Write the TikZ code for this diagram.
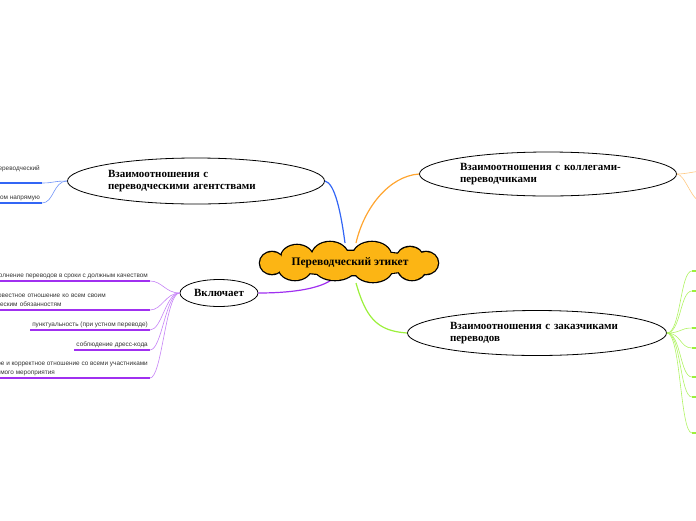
\documentclass[tikz,border=0pt]{standalone}
\usepackage{fontspec}
\setmainfont{Liberation Serif}
\setsansfont{Liberation Sans}
\usepackage{tikz}
\usetikzlibrary{calc, shapes.geometric}

\definecolor{cloudfill}{HTML}{FCB514}
\definecolor{agentblue}{HTML}{3366F5}
\definecolor{collorange}{HTML}{FFA530}
\definecolor{custgreen}{HTML}{9CF03C}
\definecolor{inclpurple}{HTML}{A030F0}

\tikzset{
  root/.style={ellipse, inner sep=0pt, minimum width=182pt, minimum height=38pt,
    font=\bfseries\fontsize{11.5}{13}\selectfont},
  topic/.style={ellipse, draw, fill=white, line width=0.8pt, align=left,
    inner sep=2pt, font=\bfseries\fontsize{11}{12}\selectfont},
  leaf/.style={anchor=south east, align=left, inner sep=2pt, text=black!80,
    font=\sffamily\fontsize{6.4}{9}\selectfont},
  branch/.style={line width=1.2pt},
  twig/.style={line width=0.6pt},
  bar/.style={line width=2pt}
}

\begin{document}
\begin{tikzpicture}[x=1pt,y=1pt]
  \useasboundingbox (0,0) rectangle (696,-520);
  \clip (0,0) rectangle (696,-520);

  % main topics
  \node[topic, text width=176pt, minimum width=257pt, minimum height=46pt] (agn) at (196,-181)
    {Взаимоотношения с\\переводческими агентствами};
  \node[topic, text width=176pt, minimum width=257pt, minimum height=44pt] (col) at (548,-174)
    {Взаимоотношения с коллегами-\\переводчиками};
  \node[topic, text width=174pt, minimum width=259pt, minimum height=45pt] (cst) at (537,-333)
    {Взаимоотношения с заказчиками\\переводов};
  \node[topic, align=center, minimum width=78pt, minimum height=27pt] (inc) at (219,-293)
    {Включает};
  \coordinate (rc) at (350,-263);

  % branches from the root
  \draw[branch, agentblue] ($(rc)+(-5,20)$) .. controls +(-4,30) and +(10,-2) .. (agn.east);
  \draw[branch, collorange] ($(rc)+(6,20)$) .. controls +(8,35) and +(-30,-2) .. (col.west);
  \draw[branch, custgreen] ($(rc)+(6,-20)$) .. controls +(10,-35) and +(-30,2) .. (cst.west);
  \draw[branch, inclpurple] ($(rc)+(-16,-15)$) .. controls +(-14,-12) and +(28,0) .. (inc.east);

  % cloud: outline first, then the fill on top
  \foreach \cx/\cy/\rx/\ry in {0/0/75/12, -78/0/12/11, 76/0/12/11,
      -53/5/16/13, -20/7/18/14, 22/7/19/14, 60/5/13/11,
      -55/-5/16/12, -15/-5/20/12, 23/-6/19/13, 62/-5/14/12} {
    \fill[black] ($(rc)+(\cx,\cy)$) ellipse ({\rx+1.3} and {\ry+1.3});
  }
  \foreach \cx/\cy/\rx/\ry in {0/0/75/12, -78/0/12/11, 76/0/12/11,
      -53/5/16/13, -20/7/18/14, 22/7/19/14, 60/5/13/11,
      -55/-5/16/12, -15/-5/20/12, 23/-6/19/13, 62/-5/14/12} {
    \fill[cloudfill] ($(rc)+(\cx,\cy)$) ellipse ({\rx} and {\ry});
  }
  \node[root] (root) at (rc) {Переводческий этикет};

  % agencies
  \node[leaf] (a1) at (42,-183) {работа через переводческий\\центр};
  \node[leaf] (a2) at (42,-203) {работа с заказчиком напрямую};
  \foreach \l in {a1,a2} {
    \draw[twig, agentblue!70] (agn.west) .. controls +(-14,0) and +(12,0) .. (\l.south east);
    \draw[bar, agentblue] (\l.south west) -- (\l.south east);
  }

  % colleagues (leaves lie past the right edge)
  \coordinate (b1) at (705,-171);
  \coordinate (b2) at (702,-202);
  \draw[twig, collorange!60] (col.east) .. controls +(10,0) and +(-10,0) .. (b1);
  \draw[twig, collorange!60] (col.east) .. controls +(8,0) and +(-10,0) .. (b2);

  % customers
  \foreach \y [count=\i] in {271,291,328,348,377,397,433} {
    \coordinate (c\i) at (692,-\y);
    \coordinate (c\i e) at (704,-\y);
    \draw[twig, custgreen!80] (cst.east) .. controls +(14,0) and +(-12,0) .. (c\i);
    \draw[bar, custgreen] (c\i) -- (c\i e);
  }

  % includes
  \node[leaf] (d1) at (150,-281) {выполнение переводов в сроки с должным качеством};
  \node[leaf, text width=171pt] (d2) at (150,-310) {добросовестное отношение ко всем своим\\практическим обязанностям};
  \node[leaf] (d3) at (150,-330) {пунктуальность (при устном переводе)};
  \node[leaf] (d4) at (150,-350) {соблюдение дресс-кода};
  \node[leaf] (d5) at (150,-378) {вежливое и корректное отношение со всеми участниками\\проводимого мероприятия};
  \foreach \l in {d1,d2,d3,d4,d5} {
    \draw[twig, inclpurple!60] (inc.west) .. controls +(-14,0) and +(12,0) .. (\l.south east);
    \draw[bar, inclpurple] (\l.south west) -- (\l.south east);
  }
\end{tikzpicture}
\end{document}
